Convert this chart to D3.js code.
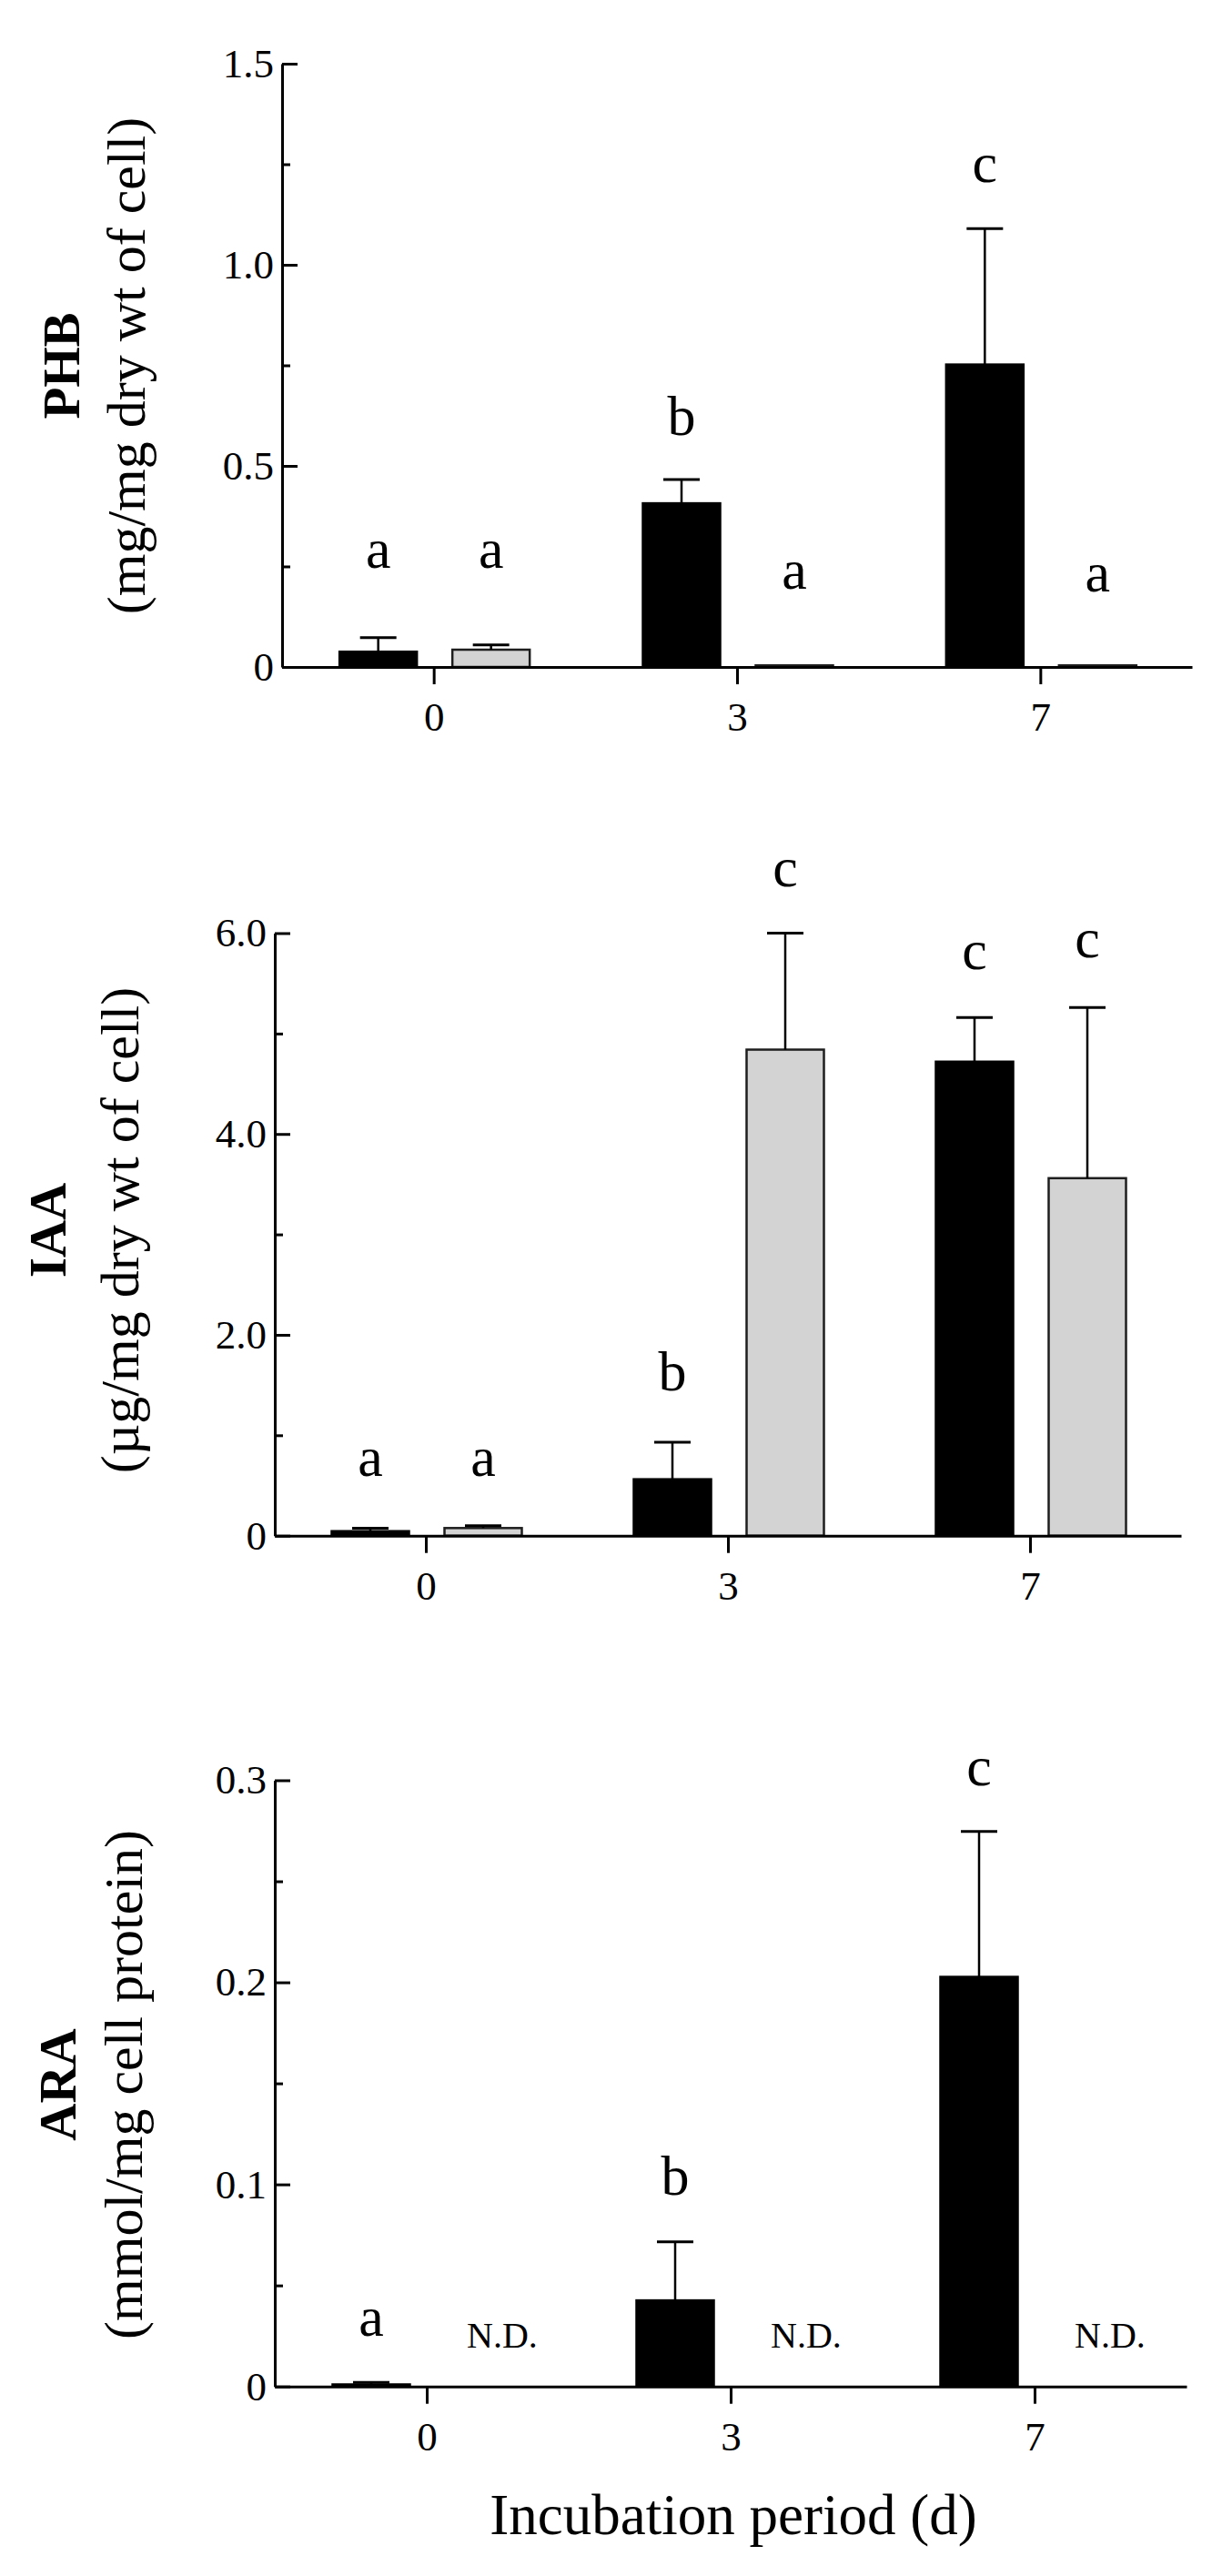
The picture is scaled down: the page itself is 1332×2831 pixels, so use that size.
<html>
<head>
  <title>PHB / IAA / ARA</title>
  <meta charset="utf-8" />
<script src="https://d3js.org/d3.v7.min.js"></script>
</head>
<style>
  body { margin: 0; background: #fff; }
  svg { display: block; }
  text { font-family: "Liberation Serif", "Times New Roman", serif; fill: #000; }
</style>
<body>

<svg class="main" width="1332" height="2831"></svg>

<script>

// incubation days and the two bar series (solid / shaded)
const days = ["0", "3", "7"]
const series = ["solid", "shaded"]

// PHB (mg/mg dry wt of cell)
const phbSolid = [0.038, 0.407, 0.752]
const phbSolidSd = [0.035, 0.059, 0.338]
const phbShaded = [0.043, 0.004, 0.004]
const phbShadedSd = [0.012, 0, 0]
const phbSolidLetters = ["a", "b", "c"]
const phbShadedLetters = ["a", "a", "a"]
const phbSolidLetterAt = [0.247, 0.577, 1.206]
const phbShadedLetterAt = [0.247, 0.195, 0.188]
const phbTicks = [0, 0.5, 1.0, 1.5]
const phbMinor = [0.25, 0.75, 1.25]

// IAA (ug/mg dry wt of cell)
const iaaSolid = [0.045, 0.562, 4.72]
const iaaSolidSd = [0.03, 0.368, 0.44]
const iaaShaded = [0.076, 4.84, 3.56]
const iaaShadedSd = [0.024, 1.16, 1.70]
const iaaSolidLetters = ["a", "b", "c"]
const iaaShadedLetters = ["a", "c", "c"]
const iaaSolidLetterAt = [0.598, 1.45, 5.64]
const iaaShadedLetterAt = [0.598, 6.47, 5.76]
const iaaTicks = [0, 2, 4, 6]
const iaaMinor = [1, 3, 5]

// ARA (mmol/mg cell protein), shaded series not detected
const araSolid = [0.001, 0.0426, 0.2027]
const araSolidSd = [0.001, 0.029, 0.072]
const araShaded = [null, null, null]
const araShadedSd = [0, 0, 0]
const araSolidLetters = ["a", "b", "c"]
const araShadedLetters = ["N.D.", "N.D.", "N.D."]
const araSolidLetterAt = [0.0251, 0.0949, 0.2973]
const araShadedLetterAt = [0.0192, 0.0192, 0.0192]
const araTicks = [0, 0.1, 0.2, 0.3]
const araMinor = [0.05, 0.15, 0.25]

const xTitle = "Incubation period (d)"

const panels = [
  { name: "PHB", unit: "(mg/mg dry wt of cell)", left: 310, right: 1310, top: 70, zero: 733, max: 1.5,
    ticks: phbTicks, minor: phbMinor, fmt: d => d === 0 ? "0" : d.toFixed(1),
    values: [phbSolid, phbShaded], sds: [phbSolidSd, phbShadedSd],
    letters: [phbSolidLetters, phbShadedLetters], letterAt: [phbSolidLetterAt, phbShadedLetterAt],
    nameX: 87, unitX: 159, labelY: 402 },
  { name: "IAA", unit: "(\u00b5g/mg dry wt of cell)", left: 302, right: 1298, top: 1025.5, zero: 1687.7, max: 6,
    ticks: iaaTicks, minor: iaaMinor, fmt: d => d === 0 ? "0" : d.toFixed(1),
    values: [iaaSolid, iaaShaded], sds: [iaaSolidSd, iaaShadedSd],
    letters: [iaaSolidLetters, iaaShadedLetters], letterAt: [iaaSolidLetterAt, iaaShadedLetterAt],
    nameX: 72, unitX: 152, labelY: 1352 },
  { name: "ARA", unit: "(mmol/mg cell protein)", left: 302, right: 1304, top: 1956.5, zero: 2622.7, max: 0.3,
    ticks: araTicks, minor: araMinor, fmt: d => d === 0 ? "0" : d.toFixed(1),
    values: [araSolid, araShaded], sds: [araSolidSd, araShadedSd],
    letters: [araSolidLetters, araShadedLetters], letterAt: [araSolidLetterAt, araShadedLetterAt],
    nameX: 83, unitX: 156, labelY: 2291 }
]

const fills = { solid: "#000", shaded: "#d3d3d3" }

const svg = d3.select("svg.main")

// offset of each series inside a day group
const inner = d3.scaleBand()
  .domain(series)
  .range([-103.5, 105.5])
  .paddingInner(0.3145)

panels.forEach(p => {
  const x = d3.scalePoint().domain(days).range([p.left, p.right]).padding(0.5)
  const y = d3.scaleLinear().domain([0, p.max]).range([p.zero, p.top])
  const g = svg.append("g")

  const rows = []
  days.forEach((d, i) => {
    series.forEach((s, j) => {
      rows.push({ day: d, s: s, v: p.values[j][i], sd: p.sds[j][i],
                  letter: p.letters[j][i], at: p.letterAt[j][i] })
    })
  })
  const cx = r => x(r.day) + inner(r.s) + inner.bandwidth() / 2

  const bars = rows.filter(r => r.v !== null)

  g.selectAll("rect.bar")
    .data(bars)
    .enter()
    .append("rect")
    .attr("class", "bar")
    .attr("x", r => x(r.day) + inner(r.s))
    .attr("width", inner.bandwidth())
    .attr("y", r => y(r.v))
    .attr("height", r => y(0) - y(r.v))
    .style("fill", r => fills[r.s])
    .style("stroke", r => r.s === "solid" ? "#000" : "#1e1e1e")
    .style("stroke-width", 2.5)

  const errs = bars.filter(r => r.sd > 0)

  g.selectAll("line.stem")
    .data(errs)
    .enter()
    .append("line")
    .attr("x1", cx).attr("x2", cx)
    .attr("y1", r => y(r.v)).attr("y2", r => y(r.v + r.sd))
    .style("stroke", "#000")
    .style("stroke-width", 2.5)

  g.selectAll("line.cap")
    .data(errs)
    .enter()
    .append("line")
    .attr("x1", r => cx(r) - 20).attr("x2", r => cx(r) + 20)
    .attr("y1", r => y(r.v + r.sd)).attr("y2", r => y(r.v + r.sd))
    .style("stroke", "#000")
    .style("stroke-width", 3)

  // significance letters and N.D. marks
  g.selectAll("text.letter")
    .data(rows)
    .enter()
    .append("text")
    .attr("x", r => cx(r) + (r.v === null ? 20 : 0))
    .attr("y", r => y(r.at))
    .attr("text-anchor", "middle")
    .attr("font-size", r => r.v === null ? 40 : 62)
    .text(r => r.letter)

  // axes
  const xAxis = g.append("g")
    .attr("transform", `translate(0,${p.zero})`)
    .call(d3.axisBottom(x).tickSize(19).tickSizeOuter(0).tickPadding(19))
    .attr("font-size", 45)
  xAxis.selectAll("path, line").style("stroke", "#000").style("stroke-width", 3)

  const yAxis = g.append("g")
    .attr("transform", `translate(${p.left},0)`)
    .call(d3.axisLeft(y).tickValues(p.ticks).tickFormat(p.fmt)
      .tickSize(-17).tickSizeOuter(0).tickPadding(9))
    .attr("font-size", 45)
  yAxis.selectAll("path, line").style("stroke", "#000").style("stroke-width", 3)

  const yMinor = g.append("g")
    .attr("transform", `translate(${p.left},0)`)
    .call(d3.axisLeft(y).tickValues(p.minor).tickFormat("").tickSize(-9))
  yMinor.select(".domain").remove()
  yMinor.selectAll("line").style("stroke", "#000").style("stroke-width", 3)

  // y titles
  g.append("text")
    .attr("transform", `translate(${p.nameX},${p.labelY}) rotate(-90)`)
    .attr("text-anchor", "middle")
    .attr("font-weight", "bold")
    .attr("font-size", 57)
    .text(p.name)

  g.append("text")
    .attr("transform", `translate(${p.unitX},${p.labelY}) rotate(-90)`)
    .attr("text-anchor", "middle")
    .attr("font-size", 60)
    .text(p.unit)
})

svg.append("text")
  .attr("x", 806)
  .attr("y", 2785)
  .attr("text-anchor", "middle")
  .attr("font-size", 63)
  .text(xTitle)

</script>
</body>
</html>
